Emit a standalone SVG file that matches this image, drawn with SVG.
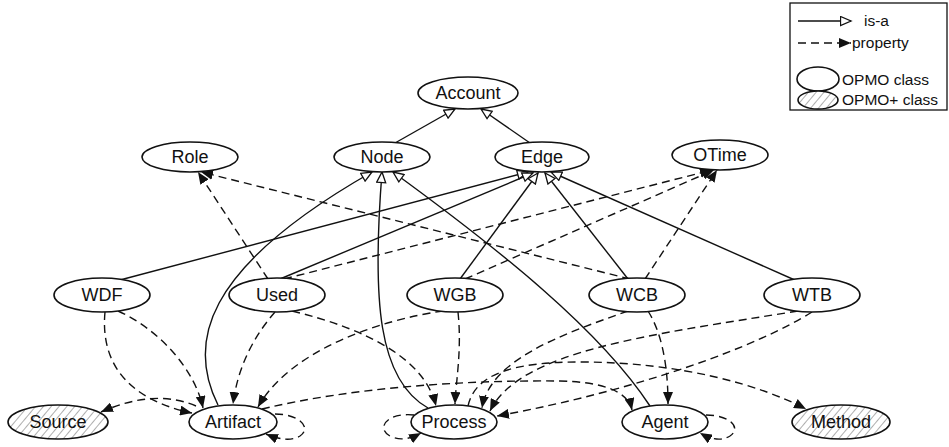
<svg xmlns="http://www.w3.org/2000/svg" width="949" height="447" viewBox="0 0 949 447">
<style>
text{font-family:"Liberation Sans",Arial,sans-serif;font-size:18px;fill:#111;text-anchor:middle}
.lg{font-size:15.5px;text-anchor:start}
ellipse{fill:#fff;stroke:#111;stroke-width:1.6}
ellipse.h{fill:url(#hatch)}
.isa{fill:none;stroke:#111;stroke-width:1.4;marker-end:url(#tri)}
.prop{fill:none;stroke:#111;stroke-width:1.4;stroke-dasharray:8,5;marker-end:url(#arr)}
</style>
<defs>
<pattern id="hatch" width="6" height="6" patternUnits="userSpaceOnUse" patternTransform="rotate(40)">
<rect width="6" height="6" fill="#fff"/>
<line x1="0" y1="0" x2="0" y2="6" stroke="#999" stroke-width="1.6"/>
</pattern>
<marker id="tri" markerUnits="userSpaceOnUse" markerWidth="13" markerHeight="11" refX="11.5" refY="5.5" orient="auto">
<path d="M1,1 L11.5,5.5 L1,10 Z" fill="#fff" stroke="#111" stroke-width="1.3"/>
</marker>
<marker id="arr" markerUnits="userSpaceOnUse" markerWidth="12" markerHeight="10" refX="12" refY="5" orient="auto">
<path d="M0,0 L12,5 L0,10 Z" fill="#111"/>
</marker>
</defs>
<rect width="949" height="447" fill="#fff"/>

<g id="connectors">
<path class="isa" d="M395,143 L455,109"/>
<path class="isa" d="M530,143 L481,109"/>
<path class="isa" d="M218,405 C188,345 200,270 372,172"/>
<path class="isa" d="M428,408 C378,380 372,300 382,172"/>
<path class="isa" d="M650,406 C600,330 500,250 393,172"/>
<path class="isa" d="M120,280 L528,172"/>
<path class="isa" d="M280,279 L533,173"/>
<path class="isa" d="M460,279 L538,173"/>
<path class="isa" d="M628,279 L545,173"/>
<path class="isa" d="M797,281 L551,172"/>

<path class="prop" d="M268,279 L198,172"/>
<path class="prop" d="M630,279 L201,172"/>
<path class="prop" d="M284,279 L712,170"/>
<path class="prop" d="M465,279 L714,170"/>
<path class="prop" d="M645,279 L717,170"/>

<path class="prop" d="M105,312 C100,365 130,400 192,413"/>
<path class="prop" d="M118,311 C160,330 195,370 203,408"/>
<path class="prop" d="M275,312 C255,335 238,365 233,404"/>
<path class="prop" d="M292,311 C370,330 425,360 436,406"/>
<path class="prop" d="M443,311 C380,320 290,350 258,407"/>
<path class="prop" d="M458,312 C462,350 456,380 455,404"/>
<path class="prop" d="M628,311 C560,335 490,360 482,408"/>
<path class="prop" d="M648,311 C660,330 668,360 668,404"/>
<path class="prop" d="M798,311 C650,335 520,350 490,411"/>
<path class="prop" d="M812,312 C760,345 640,390 497,416"/>
<path class="prop" d="M468,406 C475,375 510,362 580,362 C680,362 760,385 806,409"/>
<path class="prop" d="M262,409 C350,388 460,380 560,381 C605,382 628,392 632,410"/>
<path class="prop" d="M196,406 C170,395 140,395 101,412"/>

<path class="prop" d="M275,414 C300,414 312,428 300,436 C292,441 280,440 266,434"/>
<path class="prop" d="M414,415 C385,412 375,430 392,437 C402,441 412,438 421,433"/>
<path class="prop" d="M706,415 C730,415 742,428 730,436 C722,441 712,440 700,433"/>
</g>

<g id="node-account"><ellipse cx="468" cy="93" rx="50" ry="16"/><text x="468" y="99">Account</text></g>
<g id="node-role"><ellipse cx="190" cy="157" rx="48" ry="15"/><text x="190" y="163">Role</text></g>
<g id="node-node"><ellipse cx="382" cy="157" rx="48" ry="15"/><text x="382" y="163">Node</text></g>
<g id="node-edge"><ellipse cx="542" cy="157" rx="47" ry="15"/><text x="542" y="163">Edge</text></g>
<g id="node-otime"><ellipse cx="720" cy="155" rx="48" ry="15"/><text x="720" y="161">OTime</text></g>
<g id="node-wdf"><ellipse cx="102" cy="295" rx="48" ry="17"/><text x="102" y="301">WDF</text></g>
<g id="node-used"><ellipse cx="277" cy="295" rx="48" ry="17"/><text x="277" y="301">Used</text></g>
<g id="node-wgb"><ellipse cx="455" cy="295" rx="48" ry="17"/><text x="455" y="301">WGB</text></g>
<g id="node-wcb"><ellipse cx="637" cy="295" rx="48" ry="17"/><text x="637" y="301">WCB</text></g>
<g id="node-wtb"><ellipse cx="812" cy="295" rx="48" ry="17"/><text x="812" y="301">WTB</text></g>
<g id="node-source"><ellipse class="h" cx="58" cy="422" rx="50" ry="17"/><text x="58" y="428">Source</text></g>
<g id="node-artifact"><ellipse cx="233" cy="422" rx="44" ry="17"/><text x="233" y="428">Artifact</text></g>
<g id="node-process"><ellipse cx="454" cy="422" rx="43" ry="17"/><text x="454" y="428">Process</text></g>
<g id="node-agent"><ellipse cx="665" cy="422" rx="43" ry="17"/><text x="665" y="428">Agent</text></g>
<g id="node-method"><ellipse class="h" cx="841" cy="422" rx="49" ry="17"/><text x="841" y="428">Method</text></g>

<g id="legend">
<rect x="790" y="3" width="157" height="107" fill="#fff" stroke="#111" stroke-width="1.3"/>
<line x1="798" y1="21" x2="851" y2="21" stroke="#111" stroke-width="1.4" marker-end="url(#tri)"/>
<text class="lg" x="864" y="26">is-a</text>
<line x1="798" y1="43" x2="851" y2="43" stroke="#111" stroke-width="1.4" stroke-dasharray="8,5" marker-end="url(#arr)"/>
<text class="lg" x="852" y="48">property</text>
<ellipse cx="818" cy="79" rx="21" ry="12"/>
<text class="lg" x="842" y="85">OPMO class</text>
<ellipse class="h" cx="818" cy="100" rx="20" ry="9"/>
<text class="lg" x="842" y="105">OPMO+ class</text>
</g>
</svg>
